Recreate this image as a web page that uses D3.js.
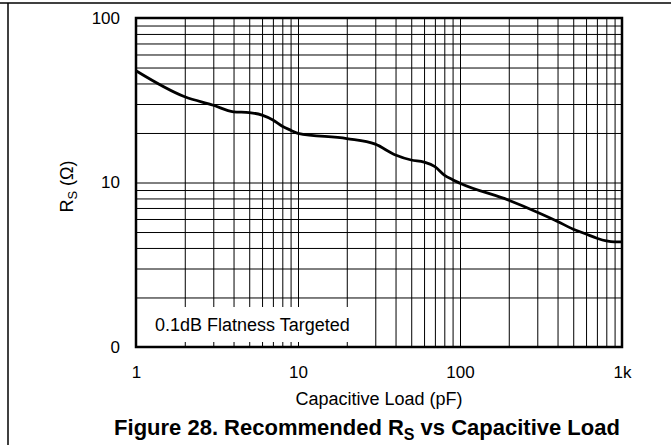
<!DOCTYPE html>
<html>
<head>
<meta charset="utf-8">
<script src="https://cdn.jsdelivr.net/npm/d3@7"></script>
<style>
  body { margin: 0; background: #fff; }
  text { font-family: "Liberation Sans", Arial, sans-serif; fill: #000; }
</style>
</head>
<body>
<div id="page-container"></div>
<script>

  // capacitive load (pF) and recommended Rs (ohm)
  var capLoad = [1, 2, 3, 4, 5, 6, 7, 8, 9, 10, 20, 30, 40, 50, 60, 70, 80, 90, 100,
                 200, 300, 400, 500, 600, 700, 800, 900, 1000];
  var rs = [47.8, 33.2, 29.5, 26.9, 26.6, 25.7, 24.0, 22.0, 20.8, 19.9, 18.5, 17.1, 14.7,
            13.7, 13.3, 12.5, 11.1, 10.4, 9.9, 7.8, 6.6, 5.8, 5.2, 4.86, 4.58, 4.41, 4.35, 4.35];

  var xTicks = [1, 10, 100, 1000],
      xTickLabels = ["1", "10", "100", "1k"];
  var yTicks = [1, 10, 100],
      yTickLabels = ["0", "10", "100"];

  var margin = {top: 18, right: 49, bottom: 98, left: 136},
      W = 671, H = 445,
      width = W - margin.left - margin.right,
      height = H - margin.top - margin.bottom;

  var x = d3.scaleLog().domain([1, 1000]).range([0, width]);
  var y = d3.scaleLog().domain([1, 100]).range([height, 0]);

  var svg = d3.select("#page-container").append("svg")
              .attr("width", W)
              .attr("height", H);

  // page frame (top and left edges only)
  svg.append("line").attr("x1", 0).attr("x2", W).attr("y1", 3).attr("y2", 3)
     .attr("stroke", "#000").attr("stroke-width", 1.5);
  svg.append("line").attr("x1", 8).attr("x2", 8).attr("y1", 3).attr("y2", H)
     .attr("stroke", "#000").attr("stroke-width", 1.5);

  var g = svg.append("g")
             .attr("transform", "translate(" + margin.left + "," + margin.top + ")");

  // log grid: every 1..9 step within each decade
  var xGrid = d3.range(1, 1001).filter(v => v / Math.pow(10, Math.floor(Math.log10(v) + 1e-9)) % 1 === 0);
  var yGrid = d3.range(1, 101).filter(v => v / Math.pow(10, Math.floor(Math.log10(v) + 1e-9)) % 1 === 0);

  g.append("g")
    .attr("class", "grid")
    .attr("transform", "translate(0," + height + ")")
    .call(d3.axisBottom(x).tickValues(xGrid).tickSize(-height).tickFormat(""));
  g.append("g")
    .attr("class", "grid")
    .call(d3.axisLeft(y).tickValues(yGrid).tickSize(-width).tickFormat(""));
  g.selectAll(".grid .domain").remove();
  g.selectAll(".grid line").attr("stroke", "#000").attr("stroke-width", 1);

  // note box hides the grid behind the label
  g.append("rect")
    .attr("x", 1).attr("y", height - 40)
    .attr("width", 222).attr("height", 35)
    .attr("fill", "#fff");
  g.append("text")
    .attr("x", 19).attr("y", height - 16)
    .attr("font-size", 18)
    .text("0.1dB Flatness Targeted");

  // plot frame
  g.append("rect")
    .attr("width", width).attr("height", height)
    .attr("fill", "none").attr("stroke", "#000").attr("stroke-width", 2.5);

  // curve
  var line = d3.line()
               .x((d, i) => x(capLoad[i]))
               .y(d => y(d))
               .curve(d3.curveMonotoneX);
  g.append("path")
    .datum(rs)
    .attr("fill", "none")
    .attr("stroke", "#000")
    .attr("stroke-width", 2.8)
    .attr("stroke-linejoin", "round")
    .attr("d", line);

  // tick labels
  var xAxis = g.append("g")
    .attr("transform", "translate(0," + height + ")")
    .call(d3.axisBottom(x).tickValues(xTicks).tickSize(0).tickPadding(19)
            .tickFormat((d, i) => xTickLabels[i]));
  var yAxis = g.append("g")
    .call(d3.axisLeft(y).tickValues(yTicks).tickSize(0).tickPadding(16)
            .tickFormat((d, i) => yTickLabels[i]));
  xAxis.select(".domain").remove();
  yAxis.select(".domain").remove();
  g.selectAll(".tick text")
    .attr("font-size", 17)
    .attr("font-family", "Liberation Sans, Arial, sans-serif")
    .attr("fill", "#000");

  // axis titles
  g.append("text")
    .attr("x", width / 2).attr("y", height + 58)
    .attr("text-anchor", "middle")
    .attr("font-size", 18)
    .text("Capacitive Load (pF)");

  var yt = g.append("text")
    .attr("transform", "translate(-63," + (height / 2 + 4) + ") rotate(-90)")
    .attr("text-anchor", "middle")
    .attr("font-size", 18);
  yt.append("tspan").text("R");
  yt.append("tspan").attr("font-size", 13).attr("dy", 4).text("S");
  yt.append("tspan").attr("dy", -4).text(" (Ω)");

  // figure caption
  var cap = svg.append("text")
    .attr("x", 367).attr("y", 435)
    .attr("text-anchor", "middle")
    .attr("font-size", 22)
    .attr("font-weight", "bold");
  cap.append("tspan").text("Figure 28. Recommended R");
  cap.append("tspan").attr("font-size", 16).attr("dy", 5).text("S");
  cap.append("tspan").attr("dy", -5).text(" vs Capacitive Load");

</script>
</body>
</html>
